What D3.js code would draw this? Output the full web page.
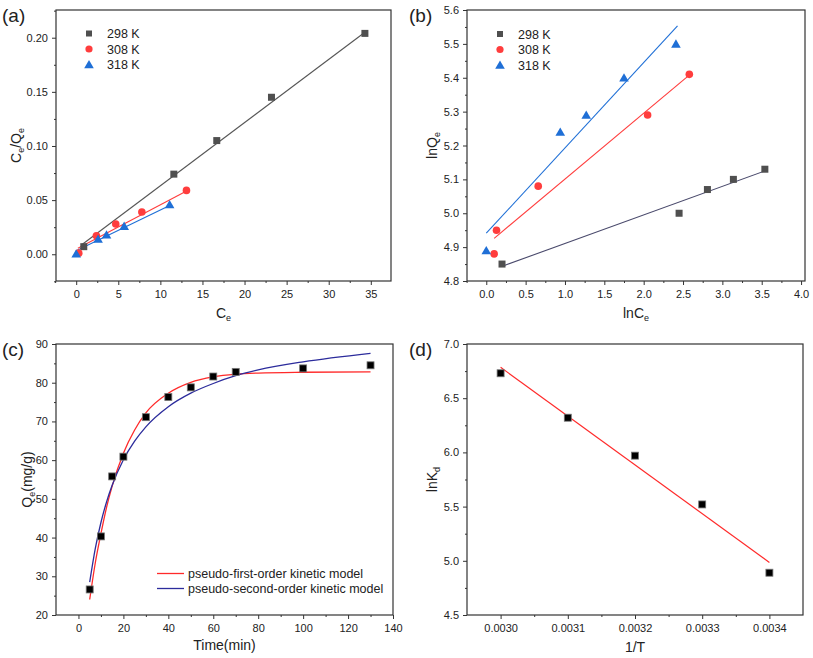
<!DOCTYPE html>
<html>
<head>
<meta charset="utf-8">
<script src="https://cdn.jsdelivr.net/npm/d3@7"></script>
<style>
  body { margin: 0; background: #fff; }
  text { font-family: "Liberation Sans", Arial, sans-serif; fill: #222; }
</style>
</head>
<body>
<script>
const width = 813;
const height = 658;

// Legend labels shared by (a) and (b).
const tempLabels = ['298 K', '308 K', '318 K'];

// (a) Langmuir: Ce vs Ce/Qe
const a298X = [0.9, 11.6, 16.7, 23.2, 34.3];
const a298Y = [0.007, 0.074, 0.105, 0.145, 0.204];
const a308X = [0.3, 2.4, 4.7, 7.8, 13.1];
const a308Y = [0.001, 0.017, 0.028, 0.039, 0.059];
const a318X = [0.0, 2.6, 3.6, 5.7, 11.1];
const a318Y = [0.0005, 0.014, 0.018, 0.026, 0.046];
// fitted line ends [x0, y0, x1, y1]
const a298Fit = [0.7, 0.009, 34.3, 0.205];
const a308Fit = [0.2, 0.0055, 13.0, 0.058];
const a318Fit = [0.0, 0.0033, 11.1, 0.045];

// (b) Freundlich: lnCe vs lnQe
const b298X = [0.2, 2.45, 2.81, 3.14, 3.54];
const b298Y = [4.85, 5.00, 5.07, 5.10, 5.13];
const b308X = [0.1, 0.13, 0.66, 2.05, 2.58];
const b308Y = [4.88, 4.95, 5.08, 5.29, 5.41];
const b318X = [0.0, 0.94, 1.27, 1.75, 2.41];
const b318Y = [4.89, 5.24, 5.29, 5.40, 5.50];
const b298Fit = [0.22, 4.845, 3.54, 5.125];
const b308Fit = [0.1, 4.926, 2.56, 5.404];
const b318Fit = [0.0, 4.941, 2.43, 5.553];

// (c) kinetics
const cTime = [5, 10, 15, 20, 30, 40, 50, 60, 70, 100, 130];
const cQe = [26.6, 40.3, 55.8, 60.9, 71.1, 76.3, 78.8, 81.6, 82.8, 83.7, 84.5];
const pfoTime = [5, 7.5, 10, 12.5, 15, 20, 25, 30, 40, 50, 60, 70, 80, 100, 130];
const pfoQ = [24.0, 33.5, 41.0, 47.8, 53.3, 61.8, 67.8, 72.2, 77.3, 80.1, 81.5, 82.2, 82.5, 82.7, 82.8];
const psoTime = [5, 7.5, 10, 12.5, 15, 20, 25, 30, 40, 50, 60, 70, 80, 100, 130];
const psoQ = [28.5, 37.2, 43.9, 49.2, 53.5, 60.1, 64.9, 68.6, 73.8, 77.3, 79.8, 81.8, 83.3, 85.4, 87.6];
const kineticLabels = ['pseudo-first-order kinetic model', 'pseudo-second-order kinetic model'];

// (d) van't Hoff
const dInvT = [0.0030, 0.0031, 0.0032, 0.0033, 0.0034];
const dLnKd = [6.73, 6.32, 5.97, 5.52, 4.89];
const dFit = [0.0030, 6.785, 0.0034, 4.985];

const gray = '#4f4f4f';
const red = '#ff3d3d';
const blue = '#1f6fd6';

let svg = d3.select('body').append('svg')
  .attr('width', width).attr('height', height);

// Builds one framed panel with Origin-like axes.
function panel(o) {
  let x = d3.scaleLinear().domain(o.xDomain).range([o.left, o.right]);
  let y = d3.scaleLinear().domain(o.yDomain).range([o.bottom, o.top]);
  let g = svg.append('g');

  let xAxis = d3.axisBottom(x).tickValues(o.xTicks).tickFormat(d3.format(o.xFmt))
    .tickSize(4).tickPadding(5);
  let yAxis = d3.axisLeft(y).tickValues(o.yTicks).tickFormat(d3.format(o.yFmt))
    .tickSize(4).tickPadding(4);
  g.append('g').attr('transform', `translate(0,${o.bottom})`).call(xAxis);
  g.append('g').attr('transform', `translate(${o.left},0)`).call(yAxis);
  g.append('g').attr('transform', `translate(0,${o.bottom})`)
    .call(d3.axisBottom(x).tickValues(o.xMinor).tickFormat('').tickSize(2));
  g.append('g').attr('transform', `translate(${o.left},0)`)
    .call(d3.axisLeft(y).tickValues(o.yMinor).tickFormat('').tickSize(2));
  g.selectAll('.domain').remove();
  g.selectAll('.tick line').attr('stroke', '#333');
  g.selectAll('.tick text').attr('font-size', 11).style('fill', '#222');

  g.append('rect')
    .attr('x', o.left).attr('y', o.top)
    .attr('width', o.right - o.left).attr('height', o.bottom - o.top)
    .attr('fill', 'none').attr('stroke', '#333').attr('stroke-width', 1.2);

  g.append('text').attr('x', o.labelX).attr('y', o.labelY)
    .attr('font-size', 19).text(o.label);

  let xt = g.append('text').attr('x', (o.left + o.right) / 2).attr('y', o.xTitleY)
    .attr('text-anchor', 'middle').attr('font-size', 14);
  o.xTitle(xt);
  let yt = g.append('text')
    .attr('transform', `translate(${o.yTitleX},${(o.top + o.bottom) / 2}) rotate(-90)`)
    .attr('text-anchor', 'middle').attr('font-size', 14);
  o.yTitle(yt);
  return { g, x, y };
}

function sub(t, main, s) {
  t.append('tspan').text(main);
  t.append('tspan').attr('font-size', 9).attr('dy', 3).text(s);
  return t;
}

function squares(p, xs, ys, color, size, stroke) {
  p.g.append('g').selectAll('rect').data(xs).join('rect')
    .attr('x', (d) => p.x(d) - size / 2)
    .attr('y', (d, i) => p.y(ys[i]) - size / 2)
    .attr('width', size).attr('height', size)
    .attr('fill', color).attr('stroke', stroke || 'none').attr('stroke-width', 0.8);
}
function circles(p, xs, ys, color) {
  p.g.append('g').selectAll('circle').data(xs).join('circle')
    .attr('cx', (d) => p.x(d)).attr('cy', (d, i) => p.y(ys[i]))
    .attr('r', 3.8).attr('fill', color);
}
const triSym = d3.symbol().type(d3.symbolTriangle).size(40);
function triangles(p, xs, ys, color) {
  p.g.append('g').selectAll('path').data(xs).join('path')
    .attr('d', triSym)
    .attr('transform', (d, i) => `translate(${p.x(d)},${p.y(ys[i]) + 1})`)
    .attr('fill', color);
}
function fitLine(p, f, color, w) {
  p.g.append('line')
    .attr('x1', p.x(f[0])).attr('y1', p.y(f[1]))
    .attr('x2', p.x(f[2])).attr('y2', p.y(f[3]))
    .attr('stroke', color).attr('stroke-width', w || 1.1);
}
function tempLegend(p, mx, tx, y0) {
  let lg = p.g.append('g');
  let rows = [0, 15.5, 31];
  lg.append('rect').attr('x', mx - 3).attr('y', y0 + rows[0] - 3)
    .attr('width', 6).attr('height', 6).attr('fill', gray);
  lg.append('circle').attr('cx', mx).attr('cy', y0 + rows[1]).attr('r', 3.6).attr('fill', red);
  lg.append('path').attr('d', triSym).attr('fill', blue)
    .attr('transform', `translate(${mx},${y0 + rows[2] + 1})`);
  tempLabels.forEach((t, i) => {
    lg.append('text').attr('x', tx).attr('y', y0 + rows[i] + 4.5)
      .attr('font-size', 12.5).text(t);
  });
}

// ---- (a)
let pa = panel({
  left: 56, right: 391, top: 10, bottom: 281,
  xDomain: [-2.4, 37.4], yDomain: [-0.0247, 0.2256],
  xTicks: d3.range(0, 36, 5), xMinor: d3.range(-2.5, 37.5, 2.5).filter((d) => d % 5 !== 0),
  yTicks: [0, 0.05, 0.1, 0.15, 0.2], yMinor: [-0.025, 0.025, 0.075, 0.125, 0.175, 0.225],
  xFmt: 'd', yFmt: '.2f',
  label: '(a)', labelX: 2, labelY: 22,
  xTitleY: 318, yTitleX: 21,
  xTitle: (t) => sub(t, 'C', 'e'),
  yTitle: (t) => { sub(t, 'C', 'e'); t.append('tspan').attr('dy', -3).text('/Q');
    t.append('tspan').attr('font-size', 9).attr('dy', 3).text('e'); },
});
fitLine(pa, a298Fit, '#555');
fitLine(pa, a308Fit, red);
fitLine(pa, a318Fit, blue);
squares(pa, a298X, a298Y, gray, 7);
circles(pa, a308X, a308Y, red);
triangles(pa, a318X, a318Y, blue);
tempLegend(pa, 89, 107, 33.5);

// ---- (b)
let pb = panel({
  left: 467, right: 805, top: 10, bottom: 281,
  xDomain: [-0.245, 4.05], yDomain: [4.8, 5.6],
  xTicks: d3.range(0, 4.01, 0.5), xMinor: d3.range(-0.25, 4.0, 0.5),
  yTicks: d3.range(4.8, 5.601, 0.1), yMinor: d3.range(4.85, 5.6, 0.1),
  xFmt: '.1f', yFmt: '.1f',
  label: '(b)', labelX: 409, labelY: 22,
  xTitleY: 318, yTitleX: 437,
  xTitle: (t) => sub(t, 'lnC', 'e'),
  yTitle: (t) => sub(t, 'lnQ', 'e'),
});
fitLine(pb, b298Fit, '#4a4a6c');
fitLine(pb, b308Fit, red);
fitLine(pb, b318Fit, blue);
squares(pb, b298X, b298Y, gray, 7);
circles(pb, b308X, b308Y, red);
triangles(pb, b318X, b318Y, blue);
tempLegend(pb, 500, 518, 34);

// ---- (c)
let pc = panel({
  left: 56, right: 393, top: 344, bottom: 615,
  xDomain: [-10, 140], yDomain: [20, 90],
  xTicks: d3.range(0, 141, 20), xMinor: d3.range(10, 140, 20),
  yTicks: d3.range(20, 91, 10), yMinor: d3.range(25, 90, 10),
  xFmt: 'd', yFmt: 'd',
  label: '(c)', labelX: 2, labelY: 356,
  xTitleY: 650, yTitleX: 32,
  xTitle: (t) => t.text('Time(min)'),
  yTitle: (t) => { sub(t, 'Q', 'e'); t.append('tspan').attr('dy', -3).text('(mg/g)'); },
});
let curve = d3.line().x((d) => pc.x(d[0])).y((d) => pc.y(d[1])).curve(d3.curveMonotoneX);
pc.g.append('path').attr('d', curve(pfoTime.map((t, i) => [t, pfoQ[i]])))
  .attr('fill', 'none').attr('stroke', '#ff2a2a').attr('stroke-width', 1.3);
pc.g.append('path').attr('d', curve(psoTime.map((t, i) => [t, psoQ[i]])))
  .attr('fill', 'none').attr('stroke', '#2c2c9c').attr('stroke-width', 1.3);
squares(pc, cTime, cQe, '#000', 7, '#777');
[['#ff2a2a', 573.5], ['#2c2c9c', 588.5]].forEach((s, i) => {
  pc.g.append('line').attr('x1', 157).attr('x2', 184).attr('y1', s[1]).attr('y2', s[1])
    .attr('stroke', s[0]).attr('stroke-width', 1.3);
  pc.g.append('text').attr('x', 188).attr('y', s[1] + 4.5).attr('font-size', 12.5)
    .text(kineticLabels[i]);
});

// ---- (d)
let pd = panel({
  left: 467, right: 803, top: 344, bottom: 615,
  xDomain: [0.00295, 0.00345], yDomain: [4.5, 7.0],
  xTicks: [0.0030, 0.0031, 0.0032, 0.0033, 0.0034],
  xMinor: [0.00305, 0.00315, 0.00325, 0.00335],
  yTicks: [4.5, 5.0, 5.5, 6.0, 6.5, 7.0], yMinor: [4.75, 5.25, 5.75, 6.25, 6.75],
  xFmt: '.4f', yFmt: '.1f',
  label: '(d)', labelX: 409, labelY: 356,
  xTitleY: 652, yTitleX: 437,
  xTitle: (t) => t.text('1/T'),
  yTitle: (t) => sub(t, 'lnK', 'd'),
});
fitLine(pd, dFit, '#ff2a2a', 1.2);
squares(pd, dInvT, dLnKd, '#000', 7, '#777');
</script>
</body>
</html>
